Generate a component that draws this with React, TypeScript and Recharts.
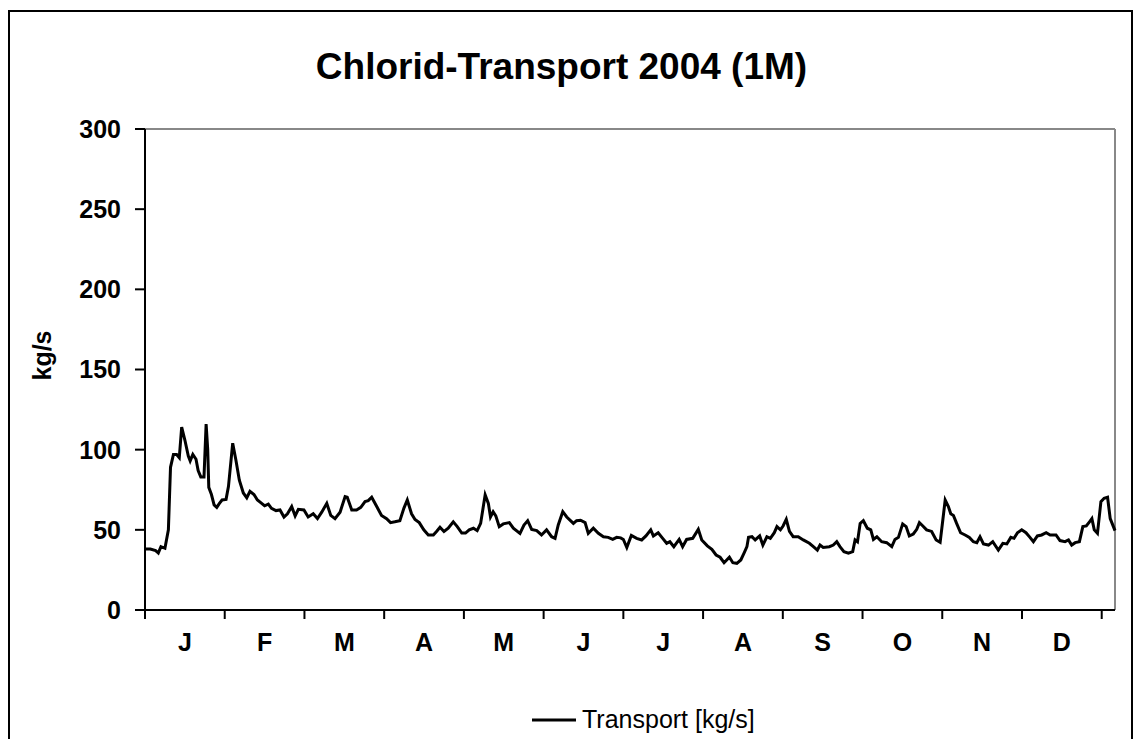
import { LineChart, Line, XAxis, YAxis, ReferenceLine } from "recharts";

// day of year (0 = 1 Jan 2004) and transport values
const dayOfYear = [
  0, 2, 4, 5, 6, 7.5, 8.8, 9.6, 10.7, 11.9,
  12.9, 13.8, 15, 16.3, 17, 18, 19.2, 20, 21, 22.2,
  23, 23.6, 24, 25, 26, 27, 28, 29, 30.5, 31.4,
  33, 34.2, 35.5, 37, 38.3, 39.5, 41, 42.3, 43.9, 45,
  46.4, 47.6, 49.3, 50.8, 52.3, 53.6, 55.2, 56.5, 57.7, 59.8,
  61.4, 63.3, 64.9, 66.5, 68.4, 69.9, 71.5, 73.4, 75.3, 76.1,
  77.8, 79.6, 81.2, 82.8, 84, 85.3, 87.2, 89, 90.9, 92.4,
  94, 95.9, 97.4, 98.7, 100.3, 101.6, 103.2, 104.9, 106.6, 108.5,
  109.7, 111, 112.5, 114.1, 116, 117.5, 119.2, 120.6, 122, 123.6,
  125, 126.3, 127.3, 128, 129.2, 130, 131, 132, 133.3, 134.8,
  137.1, 138.6, 141.1, 142.6, 144, 145.5, 147.4, 149.2, 151.1, 153,
  154.3, 155.5, 157.2, 158.7, 161.2, 162.4, 163.9, 165.6, 166.8, 168.7,
  170.6, 172.5, 174.3, 176, 177.5, 179, 180, 181.3, 183, 185,
  186.9, 188.5, 190.3, 191.3, 193.1, 194.8, 196.3, 197.5, 199, 201,
  202.3, 203.8, 206.1, 208.2, 209.5, 211.6, 213.3, 214.9, 216.4, 217.9,
  219.9, 221.2, 222.7, 224.2, 225.5, 226.5, 227.1, 228.4, 229.6, 231.3,
  232.5, 234, 235.3, 236.8, 237.8, 239.1, 240.1, 241.3, 242.5, 243.9,
  245.8, 247.7, 250, 251.5, 253, 254, 255.2, 257.5, 259, 260.3,
  261.5, 263, 264.7, 266.3, 267.2, 268.1, 269.1, 270.3, 271.8, 273.1,
  274.1, 275.4, 277.2, 279.1, 281, 282.2, 283.5, 285.1, 286.4, 287.6,
  289.1, 290.4, 291.4, 292.7, 294.1, 296, 297.7, 299.2, 300.2, 301.1,
  302.3, 303.2, 304.2, 305.4, 306.9, 308.6, 310.2, 311.7, 313, 314.2,
  315.5, 317.4, 319, 321.1, 322.8, 324.3, 325.8, 327, 328.3, 329.9,
  331.5, 333, 334.3, 335.8, 337.4, 339.1, 340.6, 342.8, 344.3, 346.2,
  347.5, 348.7, 350, 351.6, 352.9, 354.2, 355.4, 356.3, 357.2, 358.4,
  359.7, 360.9, 362.2, 363.2, 364.4, 365,
];

const transport = [
  38, 38, 37, 35.5, 39.5, 38.5, 50, 89, 97, 97,
  95, 114, 106, 96, 93, 97, 94, 87, 83, 83,
  116, 100, 76.5, 72, 65.5, 64, 66.5, 68.6, 69, 77,
  104, 93.6, 81, 73, 70, 74, 72, 68.6, 66.5, 65,
  66, 63.4, 62, 62.4, 58, 60, 64.5, 58.7, 62.8, 62.4,
  58, 60, 57, 61, 66.5, 59, 57, 61, 70.7, 70.3,
  62.4, 62.4, 64, 67.6, 68.2, 70.3, 64.5, 59, 57, 54.5,
  55, 55.7, 63.4, 68.6, 60, 56.5, 54.5, 50, 46.8, 46.8,
  49, 51.6, 49, 51, 55, 52, 48, 48, 50, 51,
  49.5, 54, 64.5, 71.8, 66.5, 58, 61.3, 58.7, 52, 53.7,
  54.5, 51, 47.8, 53, 55.7, 50.3, 49.5, 46.8, 50, 45.7,
  44.7, 53, 61.3, 58, 54, 55.7, 56, 54.5, 47.8, 51,
  47.8, 45.7, 45.3, 44, 45.3, 45, 44, 39, 46.5, 44.7,
  43.7, 46.2, 50, 46.2, 48.2, 44.7, 41.6, 42.6, 39.5, 44,
  39.5, 44, 44.7, 50.3, 43.7, 40, 37.8, 34.3, 32.9, 29.5,
  32.9, 29.5, 29.1, 31.2, 35.8, 39.5, 45.3, 45.7, 43.7, 46.2,
  40.5, 45.7, 44.7, 48.2, 52, 50, 52.4, 56.5, 49, 45.7,
  45.7, 43.7, 41.6, 39.5, 37.4, 40.5, 39, 39.5, 40.5, 42.6,
  39.5, 36.4, 35.4, 36.4, 43.7, 42.6, 54, 55.7, 51, 50,
  44, 45.7, 42.6, 42, 39.5, 44, 45.3, 53.7, 52, 46.2,
  47.4, 50.3, 54.5, 52.4, 50, 49, 43.7, 42.2, 56, 68.6,
  64.5, 60, 59, 54, 48.2, 46.8, 45.3, 42.6, 42, 45.7,
  41.2, 40.5, 42.6, 37.4, 41.6, 41.2, 45.3, 44.7, 48.2, 50,
  48.2, 45.3, 42.6, 46.2, 46.8, 48.2, 46.8, 46.8, 43.3, 42.6,
  43.7, 40.5, 42, 42.6, 52, 52.4, 55, 57, 50, 47.8,
  67.6, 69.7, 70.3, 57, 52, 49.5,
];

const monthLabels = ["J", "F", "M", "A", "M", "J", "J", "A", "S", "O", "N", "D"];
const monthTicks = [0, 30, 60, 90, 120, 150, 180, 210, 240, 270, 300, 330, 360];
const monthCenters = [15, 45, 75, 105, 135, 165, 195, 225, 255, 285, 315, 345];
const yTicks = [0, 50, 100, 150, 200, 250, 300];

const data = dayOfYear.map((d, i) => ({ day: d, transport: transport[i] }));

const FONT = '"Liberation Sans", Arial, sans-serif';

export default function App() {
  return (
    <div style={{ position: "relative", width: 1125, height: 731, overflow: "hidden", fontFamily: FONT }}>
      <div
        style={{
          position: "absolute",
          left: 0,
          top: 2,
          width: 1125,
          height: 800,
          border: "2px solid #000",
          boxSizing: "border-box",
        }}
      />
      <div
        style={{
          position: "absolute",
          left: 0,
          top: 38,
          width: 1107,
          textAlign: "center",
          fontSize: 37,
          fontWeight: "bold",
          color: "#000",
        }}
      >
        Chlorid-Transport 2004 (1M)
      </div>
      <div style={{ position: "absolute", left: 0, top: 0 }}>
        <LineChart
          width={1125}
          height={731}
          data={data}
          margin={{ top: 121, right: 18, left: 22, bottom: 79 }}
        >
          {/* month boundaries: tick marks only */}
          <XAxis
            xAxisId="a"
            dataKey="day"
            type="number"
            domain={[0, 365]}
            ticks={monthTicks}
            tickFormatter={() => ""}
            height={10}
            tickSize={9}
            axisLine={{ stroke: "#000", strokeWidth: 2 }}
            tickLine={{ stroke: "#000", strokeWidth: 2 }}
          />
          {/* month letters centred between the ticks */}
          <XAxis
            xAxisId="b"
            dataKey="day"
            type="number"
            domain={[0, 365]}
            ticks={monthCenters}
            tickFormatter={(v) => monthLabels[monthCenters.indexOf(v)] ?? ""}
            height={40}
            axisLine={false}
            tickLine={false}
            tickSize={0}
            tickMargin={13}
            tick={{ fill: "#000", fontSize: 25, fontWeight: "bold", fontFamily: FONT }}
          />
          <YAxis
            type="number"
            domain={[0, 300]}
            ticks={yTicks}
            width={115}
            tickSize={10}
            tickMargin={14}
            axisLine={{ stroke: "#000", strokeWidth: 2 }}
            tickLine={{ stroke: "#000", strokeWidth: 2 }}
            tick={{ fill: "#000", fontSize: 25, fontWeight: "bold", fontFamily: FONT }}
            label={{
              value: "kg/s",
              angle: -90,
              position: "center",
              dx: -45,
              dy: -14,
              fill: "#000",
              fontSize: 25,
              fontWeight: "bold",
              fontFamily: FONT,
            }}
          />
          <ReferenceLine xAxisId="a" y={300} stroke="#888" strokeWidth={2} />
          <ReferenceLine xAxisId="a" x={365} stroke="#888" strokeWidth={2} />
          <Line
            xAxisId="a"
            type="linear"
            dataKey="transport"
            stroke="#000"
            strokeWidth={3}
            dot={false}
            activeDot={false}
            isAnimationActive={false}
          />
        </LineChart>
      </div>
      <div
        style={{
          position: "absolute",
          left: 524,
          top: 697,
          display: "flex",
          alignItems: "center",
          fontSize: 25,
          color: "#000",
        }}
      >
        <svg width={44} height={6} style={{ marginRight: 6 }}>
          <line x1={0} y1={3} x2={44} y2={3} stroke="#000" strokeWidth={3} />
        </svg>
        <span>Transport [kg/s]</span>
      </div>
    </div>
  );
}
